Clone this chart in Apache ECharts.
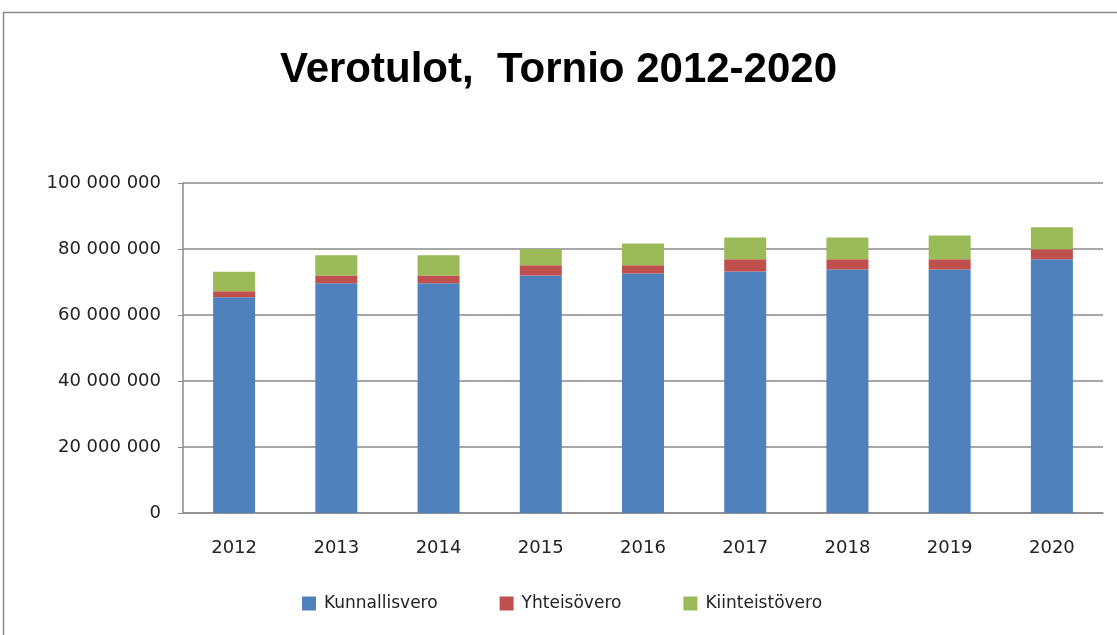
<!DOCTYPE html>
<html><head><meta charset="utf-8">
<script src="https://cdn.jsdelivr.net/npm/echarts@6/dist/echarts.min.js"></script>
<style>html,body{margin:0;padding:0;background:#fff}#c{width:1117px;height:635px}</style>
</head><body><div id="c"></div>
<script>
const years = ['2012','2013','2014','2015','2016','2017','2018','2019','2020'];
const kunnallisvero = [65400000, 69600000, 69600000, 72000000, 72600000, 73200000, 73800000, 73800000, 76900000];
const yhteisovero = [1800000, 2400000, 2400000, 3100000, 2500000, 3700000, 3100000, 3100000, 3000000];
const kiinteistovero = [5900000, 6100000, 6100000, 4900000, 6600000, 6600000, 6600000, 7200000, 6700000];
const yTicks = [0, 20000000, 40000000, 60000000, 80000000, 100000000];

const fmt = v => String(v).replace(/\B(?=(\d{3})+(?!\d))/g, ' ');
const font = 'DejaVu Sans, Verdana, sans-serif';
const chart = echarts.init(document.getElementById('c'));
chart.setOption({
  animation: false,
  graphic: [{type:'rect', shape:{x:3.5,y:12.5,width:1200,height:700}, style:{fill:null, stroke:'#8a8a8a', lineWidth:1.5}, silent:true}],
  title: {text:'Verotulot,  Tornio 2012-2020', left:'center', top:44,
    textStyle:{fontFamily:'Liberation Sans, Arial, sans-serif', fontWeight:'bold', fontSize:42, color:'#000'}},
  legend: {bottom:18, left:297, itemWidth:14, itemHeight:14, itemGap:62, icon:'rect',
    textStyle:{fontFamily:font, fontSize:17, color:'#222', padding:[0,0,0,3]}},
  grid: {left:183, right:14, top:183, bottom:122},
  xAxis: {type:'category', data:years,
    axisLine:{lineStyle:{color:'#8a8a8a', width:1.5}}, axisTick:{show:false},
    axisLabel:{fontFamily:font, fontSize:18, color:'#222', margin:26}},
  yAxis: {type:'value', min:yTicks[0], max:yTicks[yTicks.length-1], interval:20000000,
    axisLine:{show:true, lineStyle:{color:'#8a8a8a', width:1.5}},
    axisTick:{show:true, length:5, lineStyle:{color:'#8a8a8a'}},
    splitLine:{lineStyle:{color:'#8a8a8a', width:1.5}},
    axisLabel:{fontFamily:font, fontSize:18, color:'#222', margin:22, formatter: fmt}},
  series: [
    {name:'Kunnallisvero', type:'bar', stack:'t', data:kunnallisvero, barWidth:42, itemStyle:{color:'#4F81BD'}},
    {name:'Yhteisövero', type:'bar', stack:'t', data:yhteisovero, itemStyle:{color:'#C0504D'}},
    {name:'Kiinteistövero', type:'bar', stack:'t', data:kiinteistovero, itemStyle:{color:'#9BBB59'}}
  ]
});
</script></body></html>
